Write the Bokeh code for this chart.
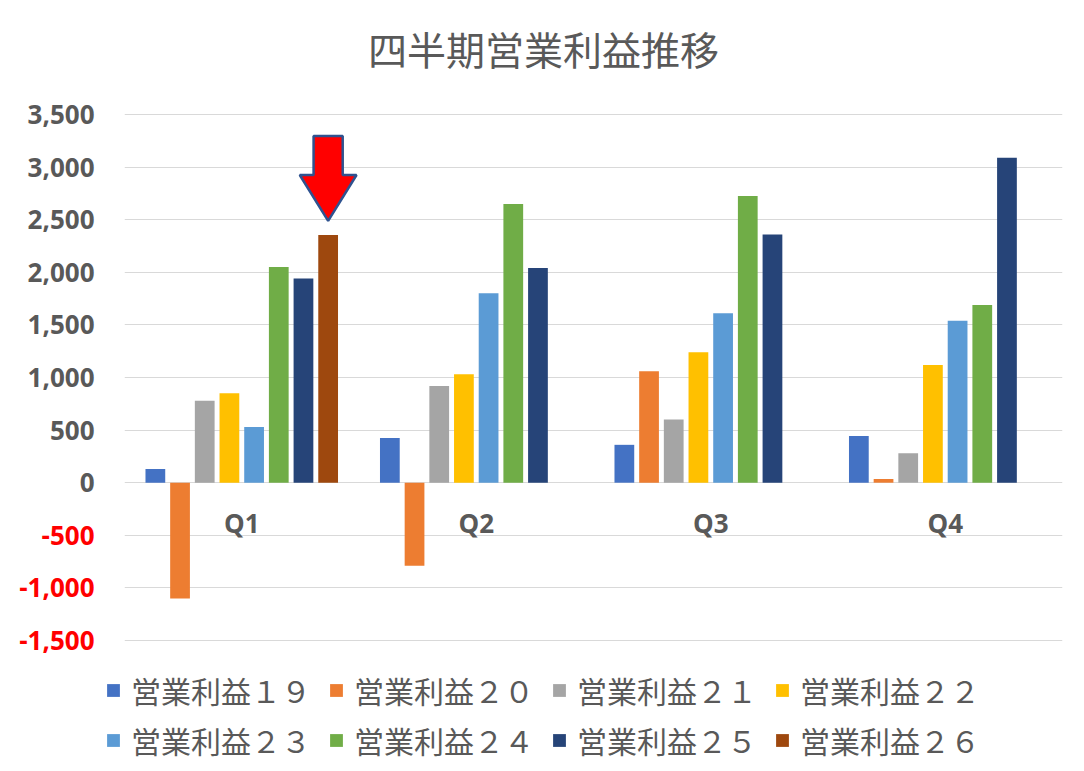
from bokeh.plotting import figure
from bokeh.layouts import column, row
from bokeh.models import (ColumnDataSource, FactorRange, Range1d, FixedTicker,
                          Legend, LegendItem)
from bokeh.core.properties import value
from bokeh.embed import file_html
from bokeh.resources import INLINE

# ---- data ----
quarters = ["Q1", "Q2", "Q3", "Q4"]
series = ["営業利益１９", "営業利益２０", "営業利益２１", "営業利益２２",
          "営業利益２３", "営業利益２４", "営業利益２５", "営業利益２６"]
op19 = [130, 425, 360, 445]
op20 = [-1100, -790, 1060, 35]
op21 = [780, 920, 600, 280]
op22 = [850, 1030, 1240, 1120]
op23 = [530, 1800, 1610, 1540]
op24 = [2050, 2650, 2725, 1690]
op25 = [1940, 2040, 2360, 3090]
op26 = [2355, None, None, None]
values = [op19, op20, op21, op22, op23, op24, op25, op26]
colors = ["#4472C4", "#ED7D31", "#A5A5A5", "#FFC000",
          "#5B9BD5", "#70AD47", "#264478", "#9E480E"]
y_ticks = [3500, 3000, 2500, 2000, 1500, 1000, 500, 0, -500, -1000, -1500]
y_tick_labels = ["3,500", "3,000", "2,500", "2,000", "1,500", "1,000", "500", "0",
                 "-500", "-1,000", "-1,500"]
title_text = "四半期営業利益推移"

GRAY = "#595959"
RED = "#FF0000"

# ---- geometry (pixels) ----
TOTAL_W = 1076
LEFT_W = 124          # width of the tick-label column
MAIN_W = TOTAL_W - LEFT_W
TITLE_H = 96          # height of the title strip
CHART_H = 564         # height of the chart row
LEG_H = 103           # height of the legend strip
PLOT_TOP = 114        # pixel row of the highest tick
PLOT_BOTTOM = 640     # pixel row of the lowest tick
k = (PLOT_BOTTOM - PLOT_TOP) / (y_ticks[0] - y_ticks[-1])   # px per unit
Y1 = y_ticks[0] + (PLOT_TOP - TITLE_H) / k
Y0 = y_ticks[-1] - (TITLE_H + CHART_H - PLOT_BOTTOM) / k
y_range = Range1d(Y0, Y1)


def bare(fig):
    fig.min_border_left = 0
    fig.min_border_right = 0
    fig.min_border_top = 0
    fig.min_border_bottom = 0
    fig.outline_line_color = None
    fig.axis.visible = False
    fig.grid.visible = False
    return fig


# ---- title strip ----
tf = bare(figure(width=TOTAL_W, height=TITLE_H, output_backend="svg",
                 toolbar_location=None, x_range=Range1d(0, TOTAL_W),
                 y_range=Range1d(TITLE_H, 0)))
tf.text(x=[543], y=[47], text=[title_text], text_align="center", text_baseline="middle",
        text_color=GRAY, text_font=value("Noto Sans CJK JP"), text_font_size="39px")

# ---- main chart ----
factors = [(q, s) for q in quarters for s in series]
GP = 1.5
span = len(factors) + GP * (len(quarters) - 1)
p = figure(width=MAIN_W, height=CHART_H, output_backend="svg", toolbar_location=None,
           x_range=FactorRange(*factors, group_padding=GP, range_padding=GP / span,
                               range_padding_units="percent"),
           y_range=y_range)
bare(p)
p.min_border_right = 14
p.ygrid.visible = True
p.ygrid.ticker = FixedTicker(ticks=y_ticks)
p.ygrid.grid_line_color = "#D9D9D9"
p.ygrid.grid_line_width = 1

for s, vals, c in zip(series, values, colors):
    xs = [(q, s) for q, v in zip(quarters, vals) if v is not None]
    ys = [v for v in vals if v is not None]
    p.vbar(x="x", top="top", bottom=0, width=0.8,
           source=ColumnDataSource(dict(x=xs, top=ys)), fill_color=c, line_color=None)

# red arrow pointing to the newest bar (Q1, 営業利益２６)
tip = op26[0]
ax = [("Q1", series[7], -0.59), ("Q1", series[7], 0.59), ("Q1", series[7], 0.59),
      ("Q1", series[7], 1.15), ("Q1", series[7], 0.0), ("Q1", series[7], -1.15),
      ("Q1", series[7], -0.59)]
ay = [tip + 940, tip + 940, tip + 570, tip + 570, tip + 133, tip + 570, tip + 570]
p.patch(x="x", y="y", source=ColumnDataSource(dict(x=ax, y=ay)),
        fill_color=RED, line_color="#2F528F", line_width=2.5)

# category labels near the zero line
p.text(x=quarters, y=[-380] * 4, text=quarters, text_align="center",
       text_baseline="middle", text_color=GRAY, text_font=value("Open Sans"),
       text_font_size="26px", text_font_style="bold")

# ---- tick label column (shares the chart's vertical range) ----
t = bare(figure(width=LEFT_W, height=CHART_H, output_backend="svg",
                toolbar_location=None, x_range=Range1d(0, LEFT_W), y_range=y_range))
tick_colors = [GRAY if v >= 0 else RED for v in y_ticks]
t.text(x=[LEFT_W - 30] * len(y_ticks), y=y_ticks, text=y_tick_labels,
       text_color=tick_colors, text_align="right", text_baseline="middle",
       text_font=value("Open Sans"), text_font_size="26px", text_font_style="bold")

# ---- legend strip ----
lgf = bare(figure(width=TOTAL_W, height=LEG_H, output_backend="svg",
                  toolbar_location=None, x_range=Range1d(0, 1), y_range=Range1d(0, 1)))
# swatch renderers: one point each, placed outside the visible range
swatches = [lgf.vbar(x=[-5], top=[-5], bottom=[-6], width=0.1, fill_color=c,
                     line_color=None) for c in colors]
for r, yloc in ((0, 51), (1, 1)):
    items = [LegendItem(label=series[i], renderers=[swatches[i]])
             for i in range(r * 4, r * 4 + 4)]
    lg = Legend(items=items, orientation="horizontal", location=(105, yloc),
                glyph_width=16, glyph_height=16, label_standoff=10, label_width=180,
                label_height=36, spacing=17, padding=0, margin=0,
                border_line_color=None, background_fill_alpha=0,
                label_text_font="Noto Sans CJK JP", label_text_font_size="30px",
                label_text_color=GRAY)
    lgf.add_layout(lg, "center")

layout = column(tf, row(t, p), lgf)
open("out.html", "w").write(file_html(layout, INLINE))
